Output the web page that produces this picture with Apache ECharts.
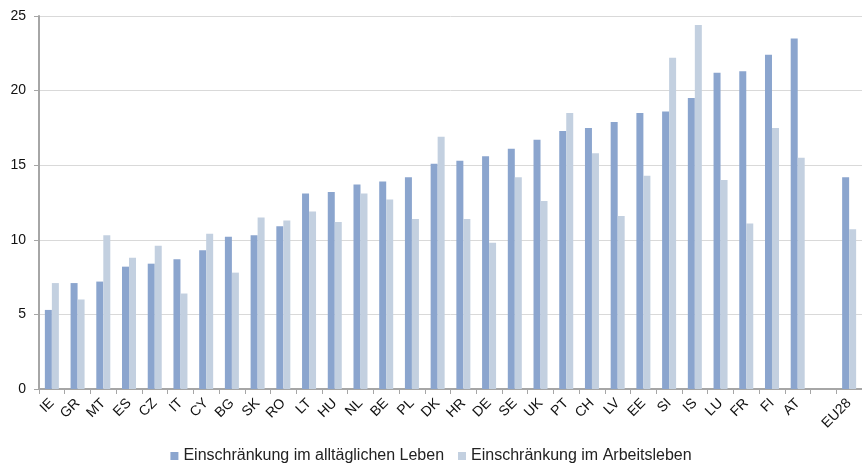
<!DOCTYPE html>
<html><head><meta charset="utf-8">
<script src="https://cdn.jsdelivr.net/npm/echarts@6/dist/echarts.min.js"></script>
<style>html,body{margin:0;padding:0;background:#fff}#c{width:862px;height:465px}</style>
</head><body><div id="c"></div>
<script>
const categories = ['IE','GR','MT','ES','CZ','IT','CY','BG','SK','RO','LT','HU','NL','BE','PL','DK','HR','DE','SE','UK','PT','CH','LV','EE','SI','IS','LU','FR','FI','AT','','EU28'];
const seriesNames = ['Einschränkung im alltäglichen Leben','Einschränkung im Arbeitsleben'];
const dailyLife = [5.3,7.1,7.2,8.2,8.4,8.7,9.3,10.2,10.3,10.9,13.1,13.2,13.7,13.9,14.2,15.1,15.3,15.6,16.1,16.7,17.3,17.5,17.9,18.5,18.6,19.5,21.2,21.3,22.4,23.5,null,14.2];
const workLife = [7.1,6.0,10.3,8.8,9.6,6.4,10.4,7.8,11.5,11.3,11.9,11.2,13.1,12.7,11.4,16.9,11.4,9.8,14.2,12.6,18.5,15.8,11.6,14.3,22.2,24.4,14.0,11.1,17.5,15.5,null,10.7];
const yTicks = [0,5,10,15,20,25];

const chart = echarts.init(document.getElementById('c'));
const font = 'Liberation Sans, Arial, sans-serif';
chart.setOption({
  animation:false,
  textStyle:{fontFamily:font},
  grid:{left:39,right:-9,top:16,bottom:76,containLabel:false},
  legend:{top:443,left:'center',itemWidth:8,itemHeight:8,itemGap:14,icon:'rect',
    textStyle:{fontSize:16,color:'#222',fontFamily:font},data:seriesNames},
  xAxis:{type:'category',data:categories,
    axisLine:{lineStyle:{color:'#A6A6A6',width:2}},
    axisTick:{show:true,alignWithLabel:false,length:5,lineStyle:{color:'#A6A6A6',width:1}},
    axisLabel:{rotate:45,fontSize:14,color:'#111',margin:12,interval:0,fontFamily:font}},
  yAxis:{type:'value',min:yTicks[0],max:yTicks[yTicks.length-1],interval:5,
    axisLine:{show:true,lineStyle:{color:'#A6A6A6',width:2}},
    axisTick:{show:true,length:5,lineStyle:{color:'#A6A6A6'}},
    splitLine:{lineStyle:{color:'#D9D9D9',width:1}},
    axisLabel:{fontSize:14,color:'#111',margin:13,fontFamily:font}},
  series:[
    {name:seriesNames[0],type:'bar',data:dailyLife,barWidth:7,barGap:'0%',
      itemStyle:{color:'#8BA5CE'}},
    {name:seriesNames[1],type:'bar',data:workLife,barWidth:7,barGap:'0%',
      itemStyle:{color:'#C3D0E0'}}
  ]
});
</script></body></html>
